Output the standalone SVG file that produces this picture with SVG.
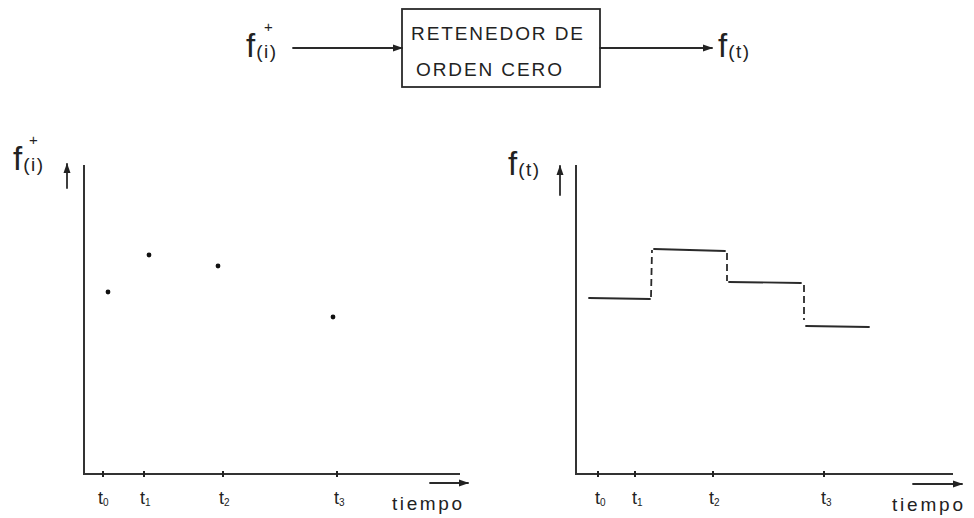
<svg xmlns="http://www.w3.org/2000/svg" width="974" height="518" viewBox="0 0 974 518">
<style>
  .ln{stroke:#2a2a2a;stroke-width:1.8;fill:none;stroke-linecap:round}
  .ax{stroke:#333;stroke-width:2;fill:none}
  .dash{stroke:#2a2a2a;stroke-width:1.8;fill:none;stroke-dasharray:7 4}
  .tx{font-family:"Liberation Sans","DejaVu Sans",sans-serif;fill:#222}
  .dot{fill:#111}
</style>
<defs>
  <marker id="ah" markerWidth="10" markerHeight="8" refX="9" refY="4" orient="auto" markerUnits="userSpaceOnUse">
    <path d="M0,0.5 L10,4 L0,7.5 Z" fill="#222"/>
  </marker>
</defs>
<rect width="974" height="518" fill="#fff"/>

<!-- top block diagram -->
<g id="input">
  <text class="tx" x="246" y="57"><tspan font-size="33">f</tspan><tspan font-size="19" dx="1" dy="1" letter-spacing="1.5">(i)</tspan></text>
  <text class="tx" x="264" y="32" font-size="15">+</text>
</g>
<g id="block">
  <rect x="402" y="9" width="198" height="78" class="ln"/>
  <text class="tx" x="411" y="40" font-size="19" textLength="172" lengthAdjust="spacing">RETENEDOR DE</text>
  <text class="tx" x="416" y="76" font-size="19" textLength="146" lengthAdjust="spacing">ORDEN CERO</text>
</g>
<g id="output">
  <text class="tx" x="718" y="57"><tspan font-size="33">f</tspan><tspan font-size="19" dx="1" dy="1" letter-spacing="1.5">(t)</tspan></text>
</g>
<g id="connectors">
  <line x1="293" y1="48" x2="402" y2="48" class="ln" marker-end="url(#ah)"/>
  <line x1="600" y1="48" x2="712" y2="48" class="ln" marker-end="url(#ah)"/>
</g>

<!-- left chart -->
<g id="chart-left">
  <text class="tx" x="13" y="170"><tspan font-size="33">f</tspan><tspan font-size="19" dx="1" dy="1" letter-spacing="1.5">(i)</tspan></text>
  <text class="tx" x="29" y="145" font-size="15">+</text>
  <line x1="67" y1="188" x2="67" y2="164" class="ln" stroke-width="2.2" marker-end="url(#ah)"/>
  <polyline points="84,165 84,474 460,474" class="ax"/>
  <g stroke="#222" stroke-width="2">
    <line x1="103" y1="471" x2="103" y2="477"/>
    <line x1="144" y1="471" x2="144" y2="477"/>
    <line x1="223" y1="471" x2="223" y2="477"/>
    <line x1="337" y1="471" x2="337" y2="477"/>
  </g>
  <circle cx="108" cy="292" r="2.4" class="dot"/>
  <circle cx="149" cy="255" r="2.4" class="dot"/>
  <circle cx="218" cy="266" r="2.4" class="dot"/>
  <circle cx="333" cy="317" r="2.4" class="dot"/>
  <text class="tx" x="98" y="504" font-size="18">t<tspan font-size="10" dy="2">0</tspan></text>
  <text class="tx" x="140" y="504" font-size="18">t<tspan font-size="10" dy="2">1</tspan></text>
  <text class="tx" x="219" y="504" font-size="18">t<tspan font-size="10" dy="2">2</tspan></text>
  <text class="tx" x="334" y="504" font-size="18">t<tspan font-size="10" dy="2">3</tspan></text>
  <line x1="430" y1="483" x2="468" y2="483" class="ln" marker-end="url(#ah)"/>
  <text class="tx" x="392" y="510" font-size="19" textLength="70" lengthAdjust="spacing">tiempo</text>
</g>

<!-- right chart -->
<g id="chart-right">
  <text class="tx" x="508" y="175"><tspan font-size="33">f</tspan><tspan font-size="19" dx="1" dy="1" letter-spacing="1.5">(t)</tspan></text>
  <line x1="560" y1="195" x2="560" y2="166" class="ln" stroke-width="2.2" marker-end="url(#ah)"/>
  <polyline points="576,165 576,474 953,474" class="ax"/>
  <g stroke="#222" stroke-width="2">
    <line x1="598" y1="471" x2="598" y2="477"/>
    <line x1="635" y1="471" x2="635" y2="477"/>
    <line x1="713" y1="471" x2="713" y2="477"/>
    <line x1="824" y1="471" x2="824" y2="477"/>
  </g>
  <line x1="589" y1="298" x2="650" y2="299" class="ln"/>
  <line x1="651" y1="297" x2="652" y2="250" class="dash"/>
  <line x1="654" y1="249" x2="725" y2="251" class="ln"/>
  <line x1="727" y1="253" x2="727" y2="281" class="dash"/>
  <line x1="729" y1="282" x2="801" y2="283" class="ln"/>
  <line x1="804" y1="285" x2="804" y2="320" class="dash"/>
  <line x1="806" y1="326" x2="869" y2="327" class="ln"/>
  <text class="tx" x="595" y="504" font-size="18">t<tspan font-size="10" dy="2">0</tspan></text>
  <text class="tx" x="632" y="504" font-size="18">t<tspan font-size="10" dy="2">1</tspan></text>
  <text class="tx" x="709" y="504" font-size="18">t<tspan font-size="10" dy="2">2</tspan></text>
  <text class="tx" x="821" y="504" font-size="18">t<tspan font-size="10" dy="2">3</tspan></text>
  <line x1="913" y1="484" x2="962" y2="484" class="ln" marker-end="url(#ah)"/>
  <text class="tx" x="892" y="511" font-size="19" textLength="71" lengthAdjust="spacing">tiempo</text>
</g>
</svg>
